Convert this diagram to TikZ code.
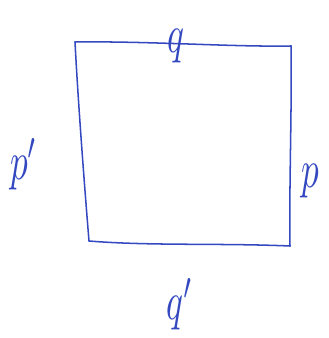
\documentclass[tikz,border=0pt]{standalone}
\usepackage{amsmath}
\usetikzlibrary{calc}
\definecolor{inkblue}{RGB}{52,72,192}
\tikzset{
    edge/.style={draw=inkblue, line width=1.3pt, line cap=round, line join=round},
    lbl/.style={text=inkblue, inner sep=0pt, xscale=3, yscale=4.6}
}
\begin{document}
\begin{tikzpicture}[x=0.03cm, y=-0.03cm]
    \useasboundingbox (0,0) rectangle (328,338);
    \coordinate (TL) at (75,42); \coordinate (TR) at (291,46);
    \coordinate (BR) at (290,246); \coordinate (BL) at (89,241);

    \draw[edge] (TL) .. controls (150,41) and (230,47) .. (TR);
    \draw[edge] (TR) .. controls (292,110) and (289,190) .. (BR);
    \draw[edge] (BR) .. controls (220,243) and (150,246) .. (BL);
    \draw[edge] (BL) .. controls (84,180) and (78,100) .. (TL);

    \node[lbl] (q) at (176,46) {\(q\)};
    \node[lbl] (p) at (310,181) {\(p\)};
    \node[lbl] (pl) at (24,164) {\(p'\)};
    \node[lbl] (ql) at (180,304) {\(q'\)};
\end{tikzpicture}
\end{document}
